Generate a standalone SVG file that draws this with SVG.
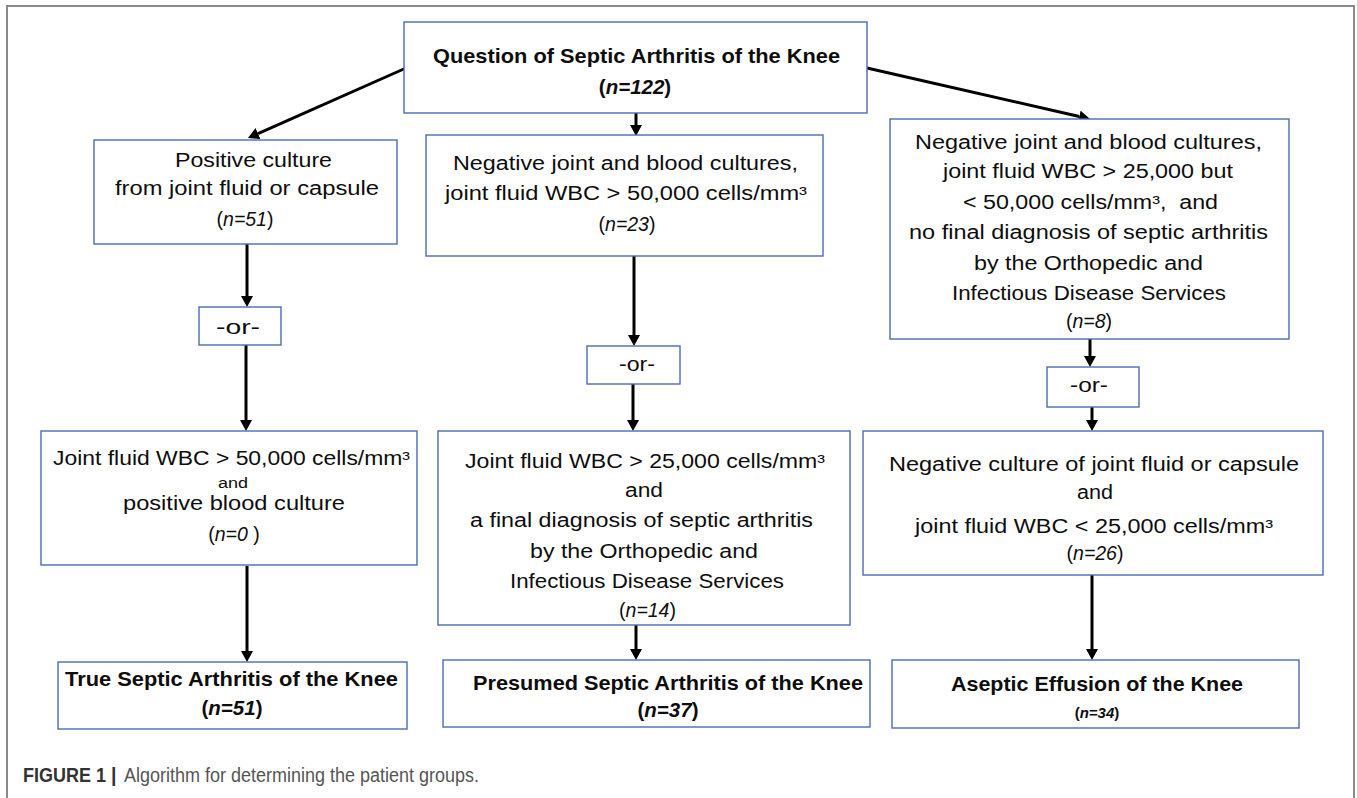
<svg xmlns="http://www.w3.org/2000/svg" width="1357" height="798" viewBox="0 0 1357 798">
<style>
.box{fill:#fff;stroke:#4a6db3;stroke-width:1.4}
.t{font-family:"Liberation Sans",Arial,sans-serif;font-size:19.5px;fill:#0d0d0d;text-anchor:middle}
.b{font-weight:bold;font-size:20.5px}
.i{font-style:italic}
.conn line{stroke:#000;stroke-width:3;marker-end:url(#ah)}
.cap{font-family:"Liberation Sans",Arial,sans-serif;font-size:19.5px}
</style>
<defs>
<marker id="ah" markerUnits="userSpaceOnUse" markerWidth="12" markerHeight="12" refX="0" refY="6" orient="auto">
<path d="M0,0 L11,6 L0,12 z" fill="#000"/>
</marker>
</defs>
<rect width="1357" height="798" fill="#fff"/>
<path d="M7,798 V6 H1354 V798" fill="none" stroke="#8a8a8a" stroke-width="2"/>

<g id="connectors" class="conn">
<line x1="406" y1="68" x2="258" y2="133.6"/>
<line x1="636" y1="113" x2="636" y2="125"/>
<line x1="867" y1="68" x2="1079.3" y2="116.5"/>
<line x1="247" y1="244" x2="247" y2="296"/>
<line x1="246" y1="345" x2="246" y2="420"/>
<line x1="247" y1="566" x2="247" y2="651"/>
<line x1="634" y1="256" x2="634" y2="335"/>
<line x1="633" y1="384" x2="633" y2="420"/>
<line x1="636" y1="625" x2="636" y2="649"/>
<line x1="1090" y1="339" x2="1090" y2="356"/>
<line x1="1092" y1="407" x2="1092" y2="420"/>
<line x1="1092" y1="575" x2="1092" y2="649"/>
</g>

<g id="top">
<rect class="box" x="404" y="22" width="463" height="91"/>
<text class="t b" x="636.5" y="63" textLength="407" lengthAdjust="spacingAndGlyphs">Question of Septic Arthritis of the Knee</text>
<text class="t b" x="635" y="94">(<tspan class="i">n=122</tspan>)</text>
</g>

<g id="left1">
<rect class="box" x="94" y="140" width="303" height="104"/>
<text class="t" x="253.5" y="167" textLength="157" lengthAdjust="spacingAndGlyphs">Positive culture</text>
<text class="t" x="247" y="195" textLength="264" lengthAdjust="spacingAndGlyphs">from joint fluid or capsule</text>
<text class="t" x="245" y="226">(<tspan class="i">n=51</tspan>)</text>
</g>

<g id="mid1">
<rect class="box" x="426" y="135" width="397" height="121"/>
<text class="t" x="625.5" y="170" textLength="345" lengthAdjust="spacingAndGlyphs">Negative joint and blood cultures,</text>
<text class="t" x="626" y="200" textLength="362" lengthAdjust="spacingAndGlyphs">joint fluid WBC &gt; 50,000 cells/mm³</text>
<text class="t" x="627" y="231">(<tspan class="i">n=23</tspan>)</text>
</g>

<g id="right1">
<rect class="box" x="890" y="119" width="399" height="220"/>
<text class="t" x="1088.5" y="149" textLength="347" lengthAdjust="spacingAndGlyphs">Negative joint and blood cultures,</text>
<text class="t" x="1088" y="178" textLength="290" lengthAdjust="spacingAndGlyphs">joint fluid WBC &gt; 25,000 but</text>
<text class="t" x="1090.5" y="209" textLength="255" lengthAdjust="spacingAndGlyphs">&lt; 50,000 cells/mm³,&#160; and</text>
<text class="t" x="1088.5" y="239" textLength="359" lengthAdjust="spacingAndGlyphs">no final diagnosis of septic arthritis</text>
<text class="t" x="1088.5" y="270" textLength="229" lengthAdjust="spacingAndGlyphs">by the Orthopedic and</text>
<text class="t" x="1089" y="300" textLength="274" lengthAdjust="spacingAndGlyphs">Infectious Disease Services</text>
<text class="t" x="1089" y="328">(<tspan class="i">n=8</tspan>)</text>
</g>

<g id="or-left">
<rect class="box" x="199" y="307" width="82" height="38"/>
<text class="t" x="238" y="334" textLength="44" lengthAdjust="spacingAndGlyphs">-or-</text>
</g>
<g id="or-mid">
<rect class="box" x="587" y="346" width="93" height="38"/>
<text class="t" x="637" y="371" textLength="36" lengthAdjust="spacingAndGlyphs">-or-</text>
</g>
<g id="or-right">
<rect class="box" x="1047" y="367" width="92" height="40"/>
<text class="t" x="1089" y="392" textLength="38" lengthAdjust="spacingAndGlyphs">-or-</text>
</g>

<g id="left2">
<rect class="box" x="41" y="431" width="376" height="134"/>
<text class="t" x="231.5" y="465" textLength="357" lengthAdjust="spacingAndGlyphs">Joint fluid WBC &gt; 50,000 cells/mm³</text>
<text class="t" x="233" y="488" style="font-size:14px" textLength="30" lengthAdjust="spacingAndGlyphs">and</text>
<text class="t" x="234" y="510" textLength="222" lengthAdjust="spacingAndGlyphs">positive blood culture</text>
<text class="t" x="234" y="541">(<tspan class="i">n=0</tspan> )</text>
</g>

<g id="mid2">
<rect class="box" x="438" y="431" width="412" height="194"/>
<text class="t" x="645" y="468" textLength="360" lengthAdjust="spacingAndGlyphs">Joint fluid WBC &gt; 25,000 cells/mm³</text>
<text class="t" x="644" y="497" textLength="38" lengthAdjust="spacingAndGlyphs">and</text>
<text class="t" x="641.5" y="527" textLength="343" lengthAdjust="spacingAndGlyphs">a final diagnosis of septic arthritis</text>
<text class="t" x="644" y="558" textLength="228" lengthAdjust="spacingAndGlyphs">by the Orthopedic and</text>
<text class="t" x="647" y="588" textLength="274" lengthAdjust="spacingAndGlyphs">Infectious Disease Services</text>
<text class="t" x="647.5" y="617">(<tspan class="i">n=14</tspan>)</text>
</g>

<g id="right2">
<rect class="box" x="863" y="431" width="460" height="144"/>
<text class="t" x="1094" y="471" textLength="410" lengthAdjust="spacingAndGlyphs">Negative culture of joint fluid or capsule</text>
<text class="t" x="1095" y="499" textLength="36" lengthAdjust="spacingAndGlyphs">and</text>
<text class="t" x="1094" y="533" textLength="358" lengthAdjust="spacingAndGlyphs">joint fluid WBC &lt; 25,000 cells/mm³</text>
<text class="t" x="1095" y="560">(<tspan class="i">n=26</tspan>)</text>
</g>

<g id="true-septic">
<rect class="box" x="58" y="662" width="349" height="67"/>
<text class="t b" x="231.5" y="686" textLength="333" lengthAdjust="spacingAndGlyphs">True Septic Arthritis of the Knee</text>
<text class="t b" x="232" y="715">(<tspan class="i">n=51</tspan>)</text>
</g>

<g id="presumed-septic">
<rect class="box" x="443" y="660" width="427" height="67"/>
<text class="t b" x="668" y="690" textLength="390" lengthAdjust="spacingAndGlyphs">Presumed Septic Arthritis of the Knee</text>
<text class="t b" x="668" y="717">(<tspan class="i">n=37</tspan>)</text>
</g>

<g id="aseptic">
<rect class="box" x="892" y="660" width="407" height="68"/>
<text class="t b" x="1097" y="691" textLength="292" lengthAdjust="spacingAndGlyphs">Aseptic Effusion of the Knee</text>
<text class="t b" x="1097" y="718" style="font-size:15px">(<tspan class="i">n=34</tspan>)</text>
</g>

<g id="caption">
<text class="cap" x="23" y="782" font-weight="bold" fill="#333" textLength="83" lengthAdjust="spacingAndGlyphs">FIGURE 1</text>
<text class="cap" x="111" y="782" font-weight="bold" fill="#333">|</text>
<text class="cap" x="124" y="782" fill="#555" textLength="355" lengthAdjust="spacingAndGlyphs">Algorithm for determining the patient groups.</text>
</g>
</svg>
